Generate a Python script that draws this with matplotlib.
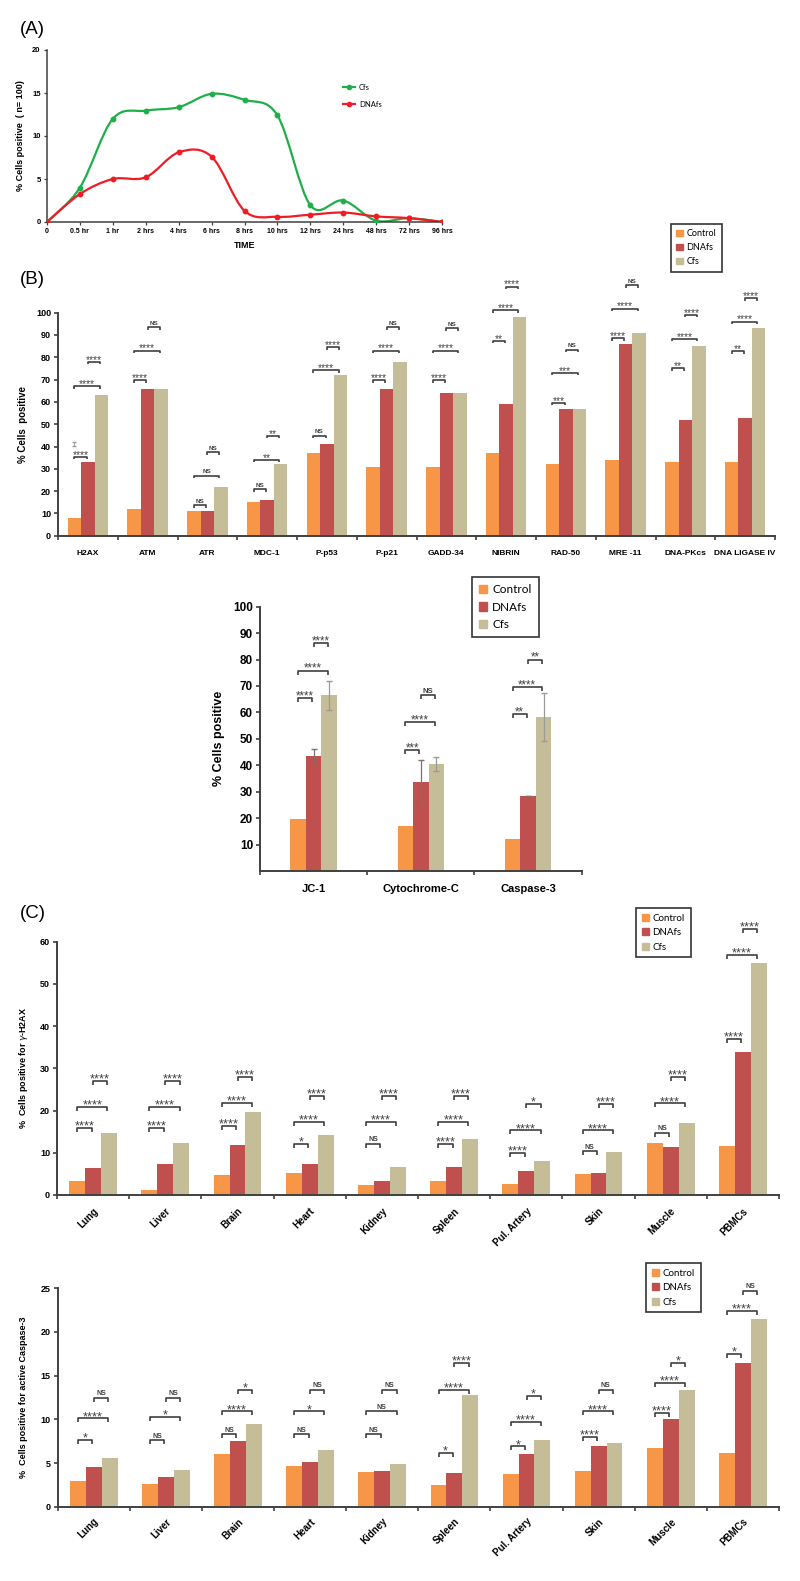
import matplotlib
matplotlib.use('Agg')
import matplotlib.pyplot as plt
from matplotlib.path import Path
from matplotlib.patches import PathPatch
from matplotlib.lines import Line2D
from matplotlib.patches import Patch

plt.rcParams['font.family'] = ['Liberation Sans', 'DejaVu Sans']

W, H = 800, 1581

#---------- DATA ---------------------------------------------------------------

# (A) time course
a_times = ['0', '0.5 hr', '1 hr', '2 hrs', '4 hrs', '6 hrs', '8 hrs', '10 hrs',
           '12 hrs', '24 hrs', '48 hrs', '72 hrs', '96 hrs']
a_cfs = [0, 4.0, 12.0, 12.95, 13.35, 14.9, 14.2, 12.4, 1.95, 2.5, 0.15, 0.45, 0]
a_dnafs = [0, 3.25, 5.0, 5.2, 8.1, 7.6, 1.3, 0.6, 0.85, 1.1, 0.65, 0.45, 0]

# (B) DNA damage response markers
b1_cats = ['H2AX', 'ATM', 'ATR', 'MDC-1', 'P-p53', 'P-p21', 'GADD-34', 'NIBRIN',
           'RAD-50', 'MRE -11', 'DNA-PKcs', 'DNA LIGASE IV']
b1_ctrl = [8, 12, 11, 15, 37, 31, 31, 37, 32, 34, 33, 33]
b1_dna = [33, 66, 11, 16, 41, 66, 64, 59, 57, 86, 52, 53]
b1_cfs = [63, 66, 22, 32, 72, 78, 64, 98, 57, 91, 85, 93]
b1_sig_cd = ['****', '****', 'NS', 'NS', 'NS', '****', '****', '**', '***', '****', '**', '**']
b1_sig_cc = ['****', '****', 'NS', '**', '****', '****', '****', '****', '***', '****', '****', '****']
b1_sig_dc = ['****', 'NS', 'NS', '**', '****', 'NS', 'NS', '****', 'NS', 'NS', '****', '****']
b1_y_cd = [35.4, 69.8, 13.6, 20.9, 44.8, 69.8, 69.8, 87.4, 59.6, 88.5, 75.2, 82.8]
b1_y_cc = [67.0, 83.0, 26.9, 34.0, 74.3, 83.0, 83.0, 101.0, 73.0, 101.8, 88.3, 96.0]
b1_y_dc = [78.0, 93.4, 37.4, 44.8, 84.6, 93.4, 93.0, 111.7, 83.4, 112.4, 99.1, 106.4]

# (B) mitochondrial / apoptosis markers
b2_cats = ['JC-1', 'Cytochrome-C', 'Caspase-3']
b2_ctrl = [19.5, 17, 12.2]
b2_dna = [43.5, 33.5, 28.2]
b2_cfs = [66.5, 40.5, 58.1]
b2_dna_err = [2.5, 8.5, 0]
b2_cfs_err = [5.5, 2.5, 9.1]
b2_sig_cd = ['****', '***', '**']
b2_sig_cc = ['****', '****', '****']
b2_sig_dc = ['****', 'NS', '**']
b2_y_cd = [65.3, 45.6, 59.3]
b2_y_cc = [75.8, 56.2, 69.7]
b2_y_dc = [86.1, 66.5, 80.0]

# (C) tissues
c_cats = ['Lung', 'Liver', 'Brain', 'Heart', 'Kidney', 'Spleen', 'Pul. Artery',
          'Skin', 'Muscle', 'PBMCs']
c1_ctrl = [3.2, 1.3, 4.7, 5.2, 2.4, 3.2, 2.6, 5.0, 12.2, 11.6]
c1_dna = [6.3, 7.3, 11.8, 7.3, 3.2, 6.6, 5.8, 5.1, 11.4, 33.8]
c1_cfs = [14.6, 12.3, 19.6, 14.2, 6.6, 13.2, 8.1, 10.3, 17.1, 55.0]
c1_sig_cd = ['****', '****', '****', '*', 'NS', '****', '****', 'NS', 'NS', '****']
c1_sig_cc = ['****'] * 10
c1_sig_dc = ['****', '****', '****', '****', '****', '****', '*', '****', '****', '****']
c1_y_cd = [15.8, 15.8, 16.4, 12.1, 12.1, 12.0, 9.9, 10.4, 14.8, 36.9]
c1_y_cc = [20.9, 20.9, 21.9, 17.3, 17.3, 17.3, 15.3, 15.3, 21.7, 56.8]
c1_y_dc = [27.0, 27.0, 27.9, 23.5, 23.5, 23.4, 21.5, 21.5, 27.9, 63.0]

c2_ctrl = [2.9, 2.6, 6.0, 4.7, 4.0, 2.45, 3.8, 4.05, 6.7, 6.1]
c2_dna = [4.5, 3.4, 7.5, 5.1, 4.05, 3.9, 6.0, 6.9, 10.0, 16.5]
c2_cfs = [5.6, 4.2, 9.5, 6.5, 4.85, 12.8, 7.6, 7.3, 13.4, 21.45]
c2_sig_cd = ['*', 'NS', 'NS', 'NS', 'NS', '*', '*', '****', '****', '*']
c2_sig_cc = ['****', '*', '****', '*', 'NS', '****', '****', '****', '****', '****']
c2_sig_dc = ['NS', 'NS', '*', 'NS', 'NS', '****', '*', 'NS', '*', 'NS']
c2_y_cd = [7.6, 7.6, 8.3, 8.3, 8.3, 6.2, 6.9, 8.0, 10.7, 17.5]
c2_y_cc = [10.1, 10.3, 10.9, 10.9, 10.9, 13.4, 9.7, 10.9, 14.2, 22.4]
c2_y_dc = [12.5, 12.5, 13.4, 13.4, 13.4, 16.5, 12.7, 13.4, 16.5, 24.7]

groups = ['Control', 'DNAfs', 'Cfs']
col_ctrl, col_dna, col_cfs = '#F79646', '#C0504D', '#C4BD97'
dark = '#404040'

#------------------------------------------------------------------------------

fig = plt.figure(figsize=(W / 100, H / 100), dpi=100)


def px_axes(l, t, r, b):
    return fig.add_axes([l / W, 1 - b / H, (r - l) / W, (b - t) / H])


def style_axes(ax):
    for s in ['top', 'right']:
        ax.spines[s].set_visible(False)
    for s in ['left', 'bottom']:
        ax.spines[s].set_color(dark)
        ax.spines[s].set_linewidth(1.4)
    ax.tick_params(which='major', direction='out', color=dark, width=1.2, length=3)


def smooth_path(x, y):
    verts = [(x[0], y[0])]
    codes = [Path.MOVETO]
    n = len(x)
    for i in range(n - 1):
        xp, yp = (x[i - 1], y[i - 1]) if i > 0 else (x[i], y[i])
        xn, yn = (x[i + 2], y[i + 2]) if i + 2 < n else (x[i + 1], y[i + 1])
        c1 = (x[i] + (x[i + 1] - xp) / 6, y[i] + (y[i + 1] - yp) / 6)
        c2 = (x[i + 1] - (xn - x[i]) / 6, y[i + 1] - (yn - y[i]) / 6)
        verts += [c1, c2, (x[i + 1], y[i + 1])]
        codes += [Path.CURVE4] * 3
    return Path(verts, codes)


def bar_panel(ax, cats, ctrl, dna, cfs, w, ymax):
    n = len(cats)
    xs = [i + 0.5 for i in range(n)]
    ax.bar([x - w for x in xs], ctrl, w, color=col_ctrl, label=groups[0], zorder=2)
    ax.bar(xs, dna, w, color=col_dna, label=groups[1], zorder=2)
    ax.bar([x + w for x in xs], cfs, w, color=col_cfs, label=groups[2], zorder=2)
    ax.set_xlim(0, n)
    ax.set_ylim(0, ymax)
    style_axes(ax)
    ax.set_xticks(range(n + 1))
    ax.set_xticklabels([])
    ax.set_xticks(xs, minor=True)
    ax.tick_params(axis='x', which='minor', length=0)
    return xs


def brackets(ax, xs, w, sigs, ys, leg_px, star_fs, ns_fs):
    pos = ax.get_position()
    y0, y1 = ax.get_ylim()
    per_px = (y1 - y0) / (pos.height * H)
    leg = leg_px * per_px
    pairs = [(-w, 0), (-w, w), (0, w)]
    for (a, b), sig, yy in zip(pairs, sigs, ys):
        for x, s, y in zip(xs, sig, yy):
            x1, x2 = x + a, x + b - 0.1 * w
            ax.plot([x1, x1, x2, x2], [y - leg, y, y, y - leg], color=dark,
                    lw=1.2, clip_on=False, zorder=3, solid_capstyle='butt')
            if s == 'NS':
                ax.text((x1 + x2) / 2, y + 2.5 * per_px, s, ha='center', va='baseline',
                        fontsize=ns_fs, color=dark, clip_on=False, fontweight='bold')
            else:
                em = star_fs * 100 / 72
                ax.text((x1 + x2) / 2, y + (2.0 - 0.28 * em) * per_px, s,
                        ha='center', va='baseline', fontsize=star_fs, color=dark,
                        clip_on=False)


def legend_box(ax, l, t, fs):
    handles = [Patch(color=c) for c in (col_ctrl, col_dna, col_cfs)]
    leg = ax.legend(handles, groups, loc='upper left',
                    bbox_to_anchor=(l / W, 1 - t / H), bbox_transform=fig.transFigure,
                    prop={'family': 'Lato', 'size': fs}, frameon=True, fancybox=False,
                    handlelength=0.7, handleheight=0.7, handletextpad=0.4,
                    borderpad=0.6, labelspacing=0.55, borderaxespad=0)
    leg.get_frame().set_edgecolor('black')
    leg.get_frame().set_linewidth(1.2)


# ---------- (A) ----------
fig.text(20 / W, 1 - 29 / H, '(A)', fontsize=13.5, va='center', ha='left')
axA = px_axes(47, 50, 442, 222)
xa = list(range(len(a_times)))
green, red = '#1FAE4A', '#EE1C25'
axA.add_patch(PathPatch(smooth_path(xa, a_cfs), fill=False, ec=green, lw=1.6, zorder=2))
axA.add_patch(PathPatch(smooth_path(xa, a_dnafs), fill=False, ec=red, lw=1.6, zorder=2))
axA.plot(xa, a_cfs, 'o', color=green, ms=3.2, zorder=3)
axA.plot(xa, a_dnafs, 'o', color=red, ms=3.2, zorder=3)
axA.set_xlim(0, 12)
axA.set_ylim(0, 20)
style_axes(axA)
axA.spines['left'].set_linewidth(1.1)
axA.spines['bottom'].set_linewidth(1.1)
axA.set_xticks(xa)
axA.set_xticklabels(a_times, fontsize=5, fontweight='bold')
axA.set_yticks([0, 5, 10, 15, 20])
axA.set_yticklabels(['0', '5', '10', '15', '20'], fontsize=5.5, fontweight='bold')
axA.tick_params(length=2.5, width=0.9, pad=2)
axA.set_xlabel('TIME', fontsize=6.5, fontweight='bold', labelpad=4)
axA.set_ylabel('% Cells positive  ( n= 100)', fontsize=6.5, fontweight='bold', labelpad=5)
hA = [Line2D([], [], color=green, marker='o', ms=3, lw=1.6),
      Line2D([], [], color=red, marker='o', ms=3, lw=1.6)]
axA.legend(hA, ['Cfs', 'DNAfs'], loc='upper left', bbox_to_anchor=(343 / W, 1 - 84 / H),
           bbox_transform=fig.transFigure, frameon=False, prop={'family': 'Lato', 'size': 5.5},
           handlelength=1.6, handletextpad=0.5, labelspacing=1.3, borderaxespad=0, borderpad=0)

# ---------- (B) top ----------
fig.text(20 / W, 1 - 280 / H, '(B)', fontsize=13.5, va='center', ha='left')
axB1 = px_axes(58, 312.7, 775, 535.7)
wb1 = 0.225
xs = bar_panel(axB1, b1_cats, b1_ctrl, b1_dna, b1_cfs, wb1, 100)
axB1.set_yticks(range(0, 101, 10))
axB1.set_yticklabels([str(v) for v in range(0, 101, 10)], fontsize=6.5, fontweight='bold')
axB1.set_xticklabels(b1_cats, minor=True, fontsize=6, fontweight='bold')
axB1.tick_params(axis='x', which='minor', pad=10)
axB1.tick_params(axis='y', pad=2)
axB1.set_ylabel('% Cells  positive', fontsize=7, fontweight='bold', labelpad=6)
brackets(axB1, xs, wb1, [b1_sig_cd, b1_sig_cc, b1_sig_dc],
         [b1_y_cd, b1_y_cc, b1_y_dc], 2.5, 7.4, 4.6)
axB1.errorbar([xs[0] - wb1], [41], yerr=[[0.8]], fmt='none', ecolor='#999999',
              capsize=1.5, lw=0.6, zorder=3)
legend_box(axB1, 671, 224, 6.5)

# ---------- (B) middle ----------
axB2 = px_axes(260, 606.7, 581.7, 871)
wb2 = 0.145
xs2 = bar_panel(axB2, b2_cats, b2_ctrl, b2_dna, b2_cfs, wb2, 100)
axB2.errorbar(xs2, b2_dna, yerr=b2_dna_err, fmt='none', ecolor='#7f6f6f',
              capsize=2.5, lw=0.9, zorder=3)
axB2.errorbar([x + wb2 for x in xs2], b2_cfs, yerr=b2_cfs_err, fmt='none',
              ecolor='#9a9a9a', capsize=2.5, lw=0.9, zorder=3)
axB2.set_yticks(range(10, 101, 10))
axB2.set_yticklabels([str(v) for v in range(10, 101, 10)], fontsize=8.5, fontweight='bold')
axB2.set_xticklabels(b2_cats, minor=True, fontsize=8, fontweight='bold')
axB2.tick_params(axis='x', which='minor', pad=9)
axB2.tick_params(axis='y', pad=2)
axB2.set_ylabel('% Cells positive', fontsize=9, fontweight='bold', labelpad=6)
brackets(axB2, xs2, wb2, [b2_sig_cd, b2_sig_cc, b2_sig_dc],
         [b2_y_cd, b2_y_cc, b2_y_dc], 4, 8.3, 5.5)
legend_box(axB2, 472, 577, 8.5)

# ---------- (C) gamma-H2AX ----------
fig.text(20 / W, 1 - 913 / H, '(C)', fontsize=13.5, va='center', ha='left')
axC1 = px_axes(57, 941.7, 779, 1195)
wc = 0.22
xs3 = bar_panel(axC1, c_cats, c1_ctrl, c1_dna, c1_cfs, wc, 60)
axC1.set_yticks(range(0, 61, 10))
axC1.set_yticklabels([str(v) for v in range(0, 61, 10)], fontsize=6.5, fontweight='bold')
axC1.set_xticklabels(c_cats, minor=True, fontsize=7, fontweight='bold', rotation=45,
                     ha='right', rotation_mode='anchor')
axC1.tick_params(axis='x', which='minor', pad=8)
axC1.tick_params(axis='y', pad=2)
axC1.set_ylabel('%  Cells positive for $\\gamma$-H2AX', fontsize=6.5, fontweight='bold', labelpad=7)
brackets(axC1, xs3, wc, [c1_sig_cd, c1_sig_cc, c1_sig_dc],
         [c1_y_cd, c1_y_cc, c1_y_dc], 4, 9.2, 5)
legend_box(axC1, 636, 908, 7)

# ---------- (C) Caspase-3 ----------
axC2 = px_axes(57.7, 1288.3, 779, 1506.7)
xs4 = bar_panel(axC2, c_cats, c2_ctrl, c2_dna, c2_cfs, wc, 25)
axC2.set_yticks(range(0, 26, 5))
axC2.set_yticklabels([str(v) for v in range(0, 26, 5)], fontsize=6.5, fontweight='bold')
axC2.set_xticklabels(c_cats, minor=True, fontsize=7, fontweight='bold', rotation=45,
                     ha='right', rotation_mode='anchor')
axC2.tick_params(axis='x', which='minor', pad=7)
axC2.tick_params(axis='y', pad=2)
axC2.set_ylabel('%  Cells positive for active Caspase-3', fontsize=6.5, fontweight='bold', labelpad=9)
brackets(axC2, xs4, wc, [c2_sig_cd, c2_sig_cc, c2_sig_dc],
         [c2_y_cd, c2_y_cc, c2_y_dc], 4, 9.2, 5)
legend_box(axC2, 646, 1263, 7)

fig.savefig('out.png', dpi=100)
